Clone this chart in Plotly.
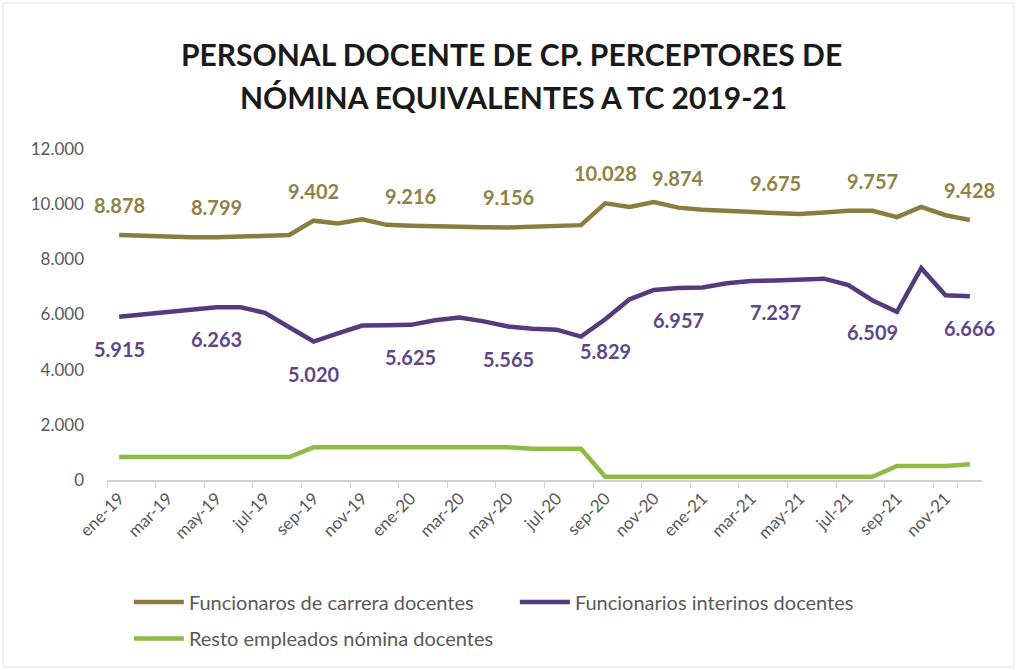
import plotly.graph_objects as go

months = ["ene-19", "feb-19", "mar-19", "abr-19", "may-19", "jun-19", "jul-19", "ago-19",
          "sep-19", "oct-19", "nov-19", "dic-19", "ene-20", "feb-20", "mar-20", "abr-20",
          "may-20", "jun-20", "jul-20", "ago-20", "sep-20", "oct-20", "nov-20", "dic-20",
          "ene-21", "feb-21", "mar-21", "abr-21", "may-21", "jun-21", "jul-21", "ago-21",
          "sep-21", "oct-21", "nov-21", "dic-21"]

carrera = [8878, 8840, 8810, 8800, 8799, 8820, 8860, 8880,
           9402, 9300, 9450, 9250, 9216, 9190, 9165, 9160,
           9156, 9190, 9220, 9240, 10028, 9900, 10080, 9874,
           9800, 9750, 9720, 9675, 9640, 9700, 9760, 9757,
           9530, 9900, 9600, 9428]

interinos = [5915, 6000, 6120, 6180, 6263, 6260, 6060, 5540,
             5020, 5320, 5600, 5610, 5625, 5790, 5890, 5750,
             5565, 5480, 5450, 5200, 5829, 6550, 6890, 6957,
             6980, 7130, 7210, 7237, 7270, 7300, 7070, 6509,
             6100, 7680, 6700, 6666]

resto = [830, 830, 830, 830, 830, 830, 830, 830,
         1185, 1185, 1185, 1185, 1185, 1185, 1185, 1185,
         1185, 1130, 1130, 1130, 120, 120, 120, 120,
         120, 120, 120, 120, 120, 120, 120, 120,
         510, 510, 510, 570]

label_idx_carrera = [0, 4, 8, 12, 16, 20, 23, 27, 31, 35]
label_idx_interinos = [0, 4, 8, 12, 16, 20, 23, 27, 31, 35]

names = ["Funcionaros de carrera docentes", "Funcionarios interinos docentes",
         "Resto empleados nómina docentes"]

title_lines = ["PERSONAL DOCENTE DE CP. PERCEPTORES DE", "NÓMINA EQUIVALENTES A TC 2019-21"]

c_gold = "#8b7d3f"
c_purple = "#553a7e"
c_green = "#8dbb45"
t_gold = "#8e8246"
t_purple = "#5e4788"

fig = go.Figure()
fig.add_trace(go.Scatter(x=months, y=carrera, name=names[0], mode="lines",
                         line=dict(color=c_gold, width=4.5), legend="legend"))
fig.add_trace(go.Scatter(x=months, y=interinos, name=names[1], mode="lines",
                         line=dict(color=c_purple, width=4.5), legend="legend"))
fig.add_trace(go.Scatter(x=months, y=resto, name=names[2], mode="lines",
                         line=dict(color=c_green, width=4.5), legend="legend2"))

fmt = lambda v: f"{v:,}".replace(",", ".")
annotations = []
for i in label_idx_carrera:
    annotations.append(dict(x=months[i], y=carrera[i], text=fmt(carrera[i]), showarrow=False,
                            yshift=30, font=dict(family="Lato", size=20, color=t_gold, weight="bold")))
for i in label_idx_interinos:
    annotations.append(dict(x=months[i], y=interinos[i], text=fmt(interinos[i]), showarrow=False,
                            yshift=-32, font=dict(family="Lato", size=20, color=t_purple, weight="bold")))
# second title line
annotations.append(dict(xref="paper", yref="paper", x=0.465, y=1 + (149 - 97) / 331,
                        xanchor="center", yanchor="middle", showarrow=False, text=title_lines[1],
                        font=dict(family="Lato", size=30, color="#1a1a1a", weight="bold")))

fig.update_layout(
    width=1017, height=670,
    margin=dict(l=107, r=35, t=149, b=190),
    paper_bgcolor="white", plot_bgcolor="white",
    separators=",.",
    font=dict(family="Lato", color="#595959"),
    title=dict(text=title_lines[0], x=0.503, xanchor="center", y=1 - 55 / 670, yanchor="middle",
               font=dict(family="Lato", size=30, color="#1a1a1a", weight="bold")),
    xaxis=dict(type="category", range=[-0.5, 35.5], tickmode="array",
               tickvals=months[::2], ticktext=months[::2], tickangle=-45,
               tickson="boundaries", ticks="outside", ticklen=6, tickcolor="#d0d0d0",
               showline=True, linecolor="#d0d0d0", linewidth=1.5, showgrid=False,
               tickfont=dict(family="Lato", size=17, color="#595959"), zeroline=False),
    yaxis=dict(range=[0, 12000], tickvals=[0, 2000, 4000, 6000, 8000, 10000, 12000],
               tickformat=",d", showgrid=False, zeroline=False, showline=False,
               ticks="", ticklabelstandoff=22,
               tickfont=dict(family="Lato", size=17, color="#595959")),
    legend=dict(orientation="h", x=0.025, xanchor="left", y=-0.31, yanchor="top",
                entrywidth=321, entrywidthmode="pixels", itemwidth=50,
                font=dict(family="Lato", size=20, color="#595959")),
    legend2=dict(orientation="h", x=0.025, xanchor="left", y=-0.42, yanchor="top",
                 itemwidth=50,
                 font=dict(family="Lato", size=20, color="#595959")),
    annotations=annotations,
    shapes=[dict(type="rect", xref="paper", yref="paper",
                 x0=-104/875, x1=1 + 32/875, y0=-187/331, y1=1 + 146/331,
                 line=dict(color="#e3e3e3", width=1))],
)

fig.write_html("out.html", post_script="document.body.style.margin='0';",
               config={"displayModeBar": False})
